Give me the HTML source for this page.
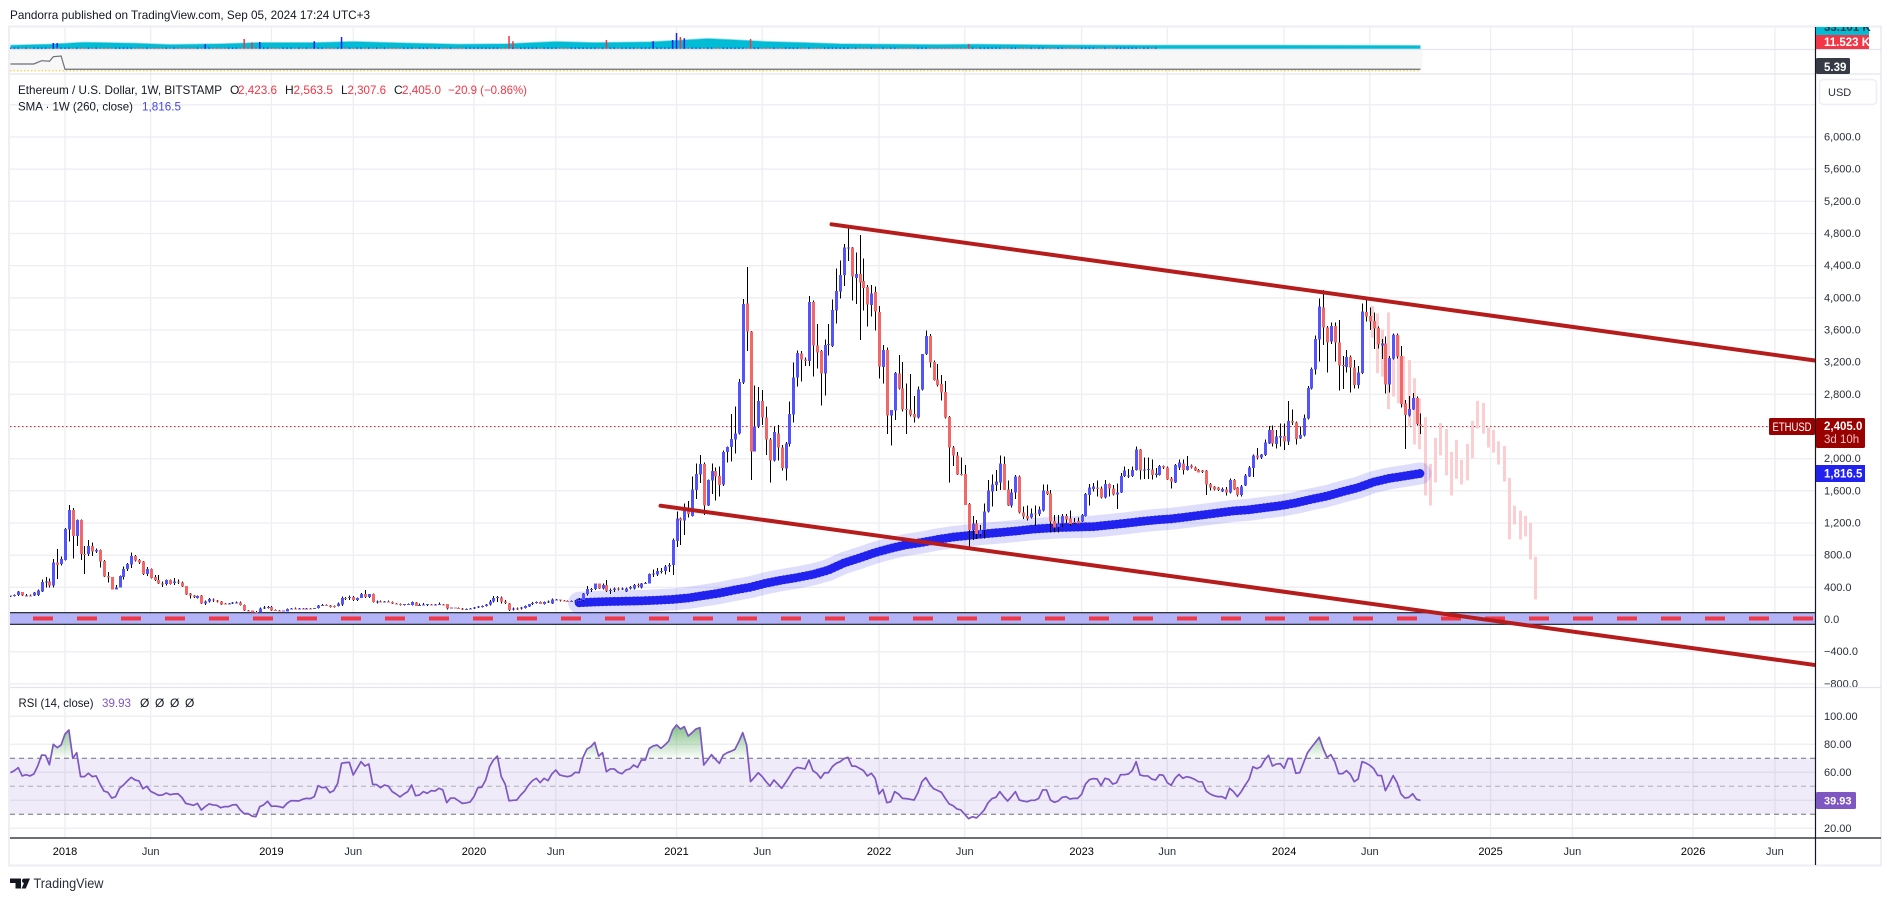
<!DOCTYPE html>
<html lang="en">
<head>
<meta charset="utf-8">
<title>Ethereum / U.S. Dollar chart</title>
<style>
html,body{margin:0;padding:0;background:#fff;width:1891px;height:901px;overflow:hidden}
svg{display:block;font-family:"Liberation Sans",sans-serif}
text{font-size:12px;fill:#131722}
</style>
</head>
<body>
<svg id="chart" xmlns="http://www.w3.org/2000/svg" width="1891" height="901" viewBox="0 0 1891 901">
  <defs>
    <clipPath id="main-clip"><rect x="10" y="74" width="1805" height="613"/></clipPath>
    <clipPath id="volume-clip"><rect x="10" y="27" width="1805" height="22"/></clipPath>
    <clipPath id="label-clip"><rect x="1815" y="27" width="66" height="22"/></clipPath>
    <clipPath id="rsi-over-clip"><rect x="10" y="688" width="1805" height="70"/></clipPath>
    <linearGradient id="rsi-over-grad" gradientUnits="userSpaceOnUse" x1="0" y1="720" x2="0" y2="758">
      <stop offset="0" stop-color="#43a047" stop-opacity="0.75"/>
      <stop offset="1" stop-color="#43a047" stop-opacity="0.03"/>
    </linearGradient>
  </defs>
  <rect x="0" y="0" width="1891" height="901" fill="#ffffff"/>
  <text x="10" y="19" textLength="360" lengthAdjust="spacingAndGlyphs" fill="#2a2e39">Pandorra published on TradingView.com, Sep 05, 2024 17:24 UTC+3</text>

  <g id="grid-layer"></g>
  <g id="volume-layer" clip-path="url(#volume-clip)"></g>
  <g id="rates-layer"></g>
  <g id="main-layer" clip-path="url(#main-clip)"></g>
  <g id="rsi-layer"></g>

  <rect x="1816" y="27" width="65" height="838" fill="#ffffff"/>
  <g id="axis-layer"></g>

  <g fill="none" stroke="#eeeef4" stroke-width="2">
    <rect x="9" y="26.5" width="1872" height="839"/>
  </g>
  <line x1="10" x2="1881" y1="74" y2="74" stroke="#e4e4ee" stroke-width="1.2"/>
  <line x1="10" x2="1881" y1="687.5" y2="687.5" stroke="#e4e4ee" stroke-width="1.2"/>
  <line x1="10" x2="1881" y1="49.5" y2="49.5" stroke="#e4e4ee" stroke-width="1.2"/>
  <line x1="10" x2="1881" y1="838" y2="838" stroke="#131722" stroke-width="1.2"/>
  <line x1="1815.5" x2="1815.5" y1="27" y2="865" stroke="#131722" stroke-width="1.2"/>

  <g clip-path="url(#label-clip)">
    <rect x="1816" y="22" width="53" height="13" fill="#00bcd4"/>
    <text x="1824" y="31" font-weight="bold" style="font-size:11.5px;fill:#1c3b47">33.101 K</text>
    <rect x="1816" y="35" width="53" height="14" fill="#f23645"/>
    <text x="1824" y="46" font-weight="bold" style="font-size:11.5px;fill:#ffffff">11.523 K</text>
  </g>
  <rect x="1816" y="58" width="34" height="16" rx="1.5" fill="#363a45"/>
  <text x="1824" y="71" font-weight="bold" style="font-size:11.5px;fill:#ffffff">5.39</text>

  <rect x="1819.5" y="79.5" width="57" height="25" rx="4" fill="#ffffff" stroke="#eeeef4" stroke-width="1.5"/>
  <text x="1828" y="96" style="font-size:11px;fill:#2a2e39">USD</text>

  <line x1="1769" x2="1815" y1="426.5" y2="426.5" stroke="#990000" stroke-width="1"/>
  <rect x="1769" y="418" width="46" height="17" rx="1.5" fill="#990000"/>
  <text x="1772.5" y="431" textLength="39" lengthAdjust="spacingAndGlyphs" style="font-size:11.5px;fill:#ffffff">ETHUSD</text>
  <rect x="1816" y="418" width="49" height="30" rx="1.5" fill="#990000"/>
  <text x="1824" y="430" font-weight="bold" style="font-size:11.5px;fill:#ffffff">2,405.0</text>
  <text x="1824" y="443" style="font-size:11.5px;fill:#f0c4c4">3d 10h</text>
  <rect x="1816" y="465" width="49" height="17" fill="#2222ee"/>
  <text x="1824" y="477.5" font-weight="bold" style="font-size:11.5px;fill:#ffffff">1,816.5</text>
  <rect x="1816" y="792" width="40" height="17" rx="1.5" fill="#7e57c2"/>
  <text x="1824" y="804.5" font-weight="bold" style="font-size:11px;fill:#ffffff">39.93</text>

  <g>
    <text x="18" y="94" textLength="204" lengthAdjust="spacingAndGlyphs">Ethereum / U.S. Dollar, 1W, BITSTAMP</text>
    <text x="230" y="94">O</text>
    <text x="238" y="94" textLength="39" lengthAdjust="spacingAndGlyphs" style="fill:#f23645">2,423.6</text>
    <text x="285" y="94">H</text>
    <text x="293.5" y="94" textLength="39.5" lengthAdjust="spacingAndGlyphs" style="fill:#f23645">2,563.5</text>
    <text x="341" y="94">L</text>
    <text x="347.5" y="94" textLength="38.5" lengthAdjust="spacingAndGlyphs" style="fill:#f23645">2,307.6</text>
    <text x="394" y="94">C</text>
    <text x="402" y="94" textLength="39" lengthAdjust="spacingAndGlyphs" style="fill:#f23645">2,405.0</text>
    <text x="448" y="94" textLength="79" lengthAdjust="spacingAndGlyphs" style="fill:#f23645">−20.9 (−0.86%)</text>
    <text x="18" y="110.5" textLength="115" lengthAdjust="spacingAndGlyphs">SMA · 1W (260, close)</text>
    <text x="142" y="110.5" textLength="39" lengthAdjust="spacingAndGlyphs" style="fill:#4444f0">1,816.5</text>
  </g>
  <g>
    <text x="18.5" y="707" textLength="75" lengthAdjust="spacingAndGlyphs">RSI (14, close)</text>
    <text x="102" y="707" textLength="29" lengthAdjust="spacingAndGlyphs" style="fill:#7e57c2">39.93</text>
    <text x="140" y="707">Ø</text>
    <text x="155" y="707">Ø</text>
    <text x="170" y="707">Ø</text>
    <text x="185" y="707">Ø</text>
  </g>

  <g>
    <path d="M10 878.5H21V888.5H15.5V883H10Z" fill="#131722"/>
    <circle cx="24.3" cy="880.8" r="2.3" fill="#131722"/>
    <path d="M26 878.5H30L25.8 888.5H21.6Z" fill="#131722"/>
    <text x="33.5" y="888" textLength="70" lengthAdjust="spacingAndGlyphs" style="font-size:14px;fill:#2a2e39">TradingView</text>
  </g>
</svg>

<script>
// ---------- candle data (week -14 = 25 Sep 2017, week 0 = 1 Jan 2018) ----------
const firstWeek = -14;
const opens = [
291,296,305,340,296,300,298,304,346,466,
470,420,706,690,740,1120,1360,1038,1237,814,
815,913,843,864,727,540,527,370,400,527,
630,682,789,740,720,565,628,527,490,450,
440,490,455,470,460,416,325,296,270,300,
200,225,250,235,225,200,198,201,210,212,
180,115,112,92,90,135,150,155,118,115,
108,100,130,138,134,137,135,137,135,140,
175,180,172,165,165,185,270,265,280,240,
270,317,280,317,225,226,218,225,215,200,
190,180,190,180,212,175,180,180,188,185,
188,188,190,145,150,145,138,130,132,138,
150,160,165,185,225,270,275,225,200,130,
135,135,140,160,190,205,220,190,215,200,
245,248,235,232,228,230,235,240,316,378,
380,445,385,432,355,365,385,375,350,385,
385,430,400,450,450,566,561,590,600,660,
678,976,1258,1230,1395,1287,1610,1800,1934,1415,
1726,1846,1784,1677,2083,2145,2240,2315,2945,3931,
3583,2092,2398,2717,2514,2240,1975,2315,2141,1876,
2182,2547,3007,3310,3235,3214,3948,3405,3339,3056,
3413,3401,3840,4076,4284,4611,4628,4246,4296,4209,
4134,3911,4072,3824,3140,3351,2539,2597,3061,2874,
2620,2613,2555,2510,2862,3301,3525,3201,2986,2928,
2829,2518,2141,2041,1809,1809,1436,1113,1196,1063,
1113,1341,1590,1672,1705,1934,1618,1415,1577,1776,
1333,1287,1270,1320,1312,1353,1598,1569,1225,1150,
1196,1287,1258,1215,1225,1216,1287,1548,1623,1643,
1631,1515,1685,1631,1555,1581,1784,1785,1784,1859,
2116,1860,1865,1867,1797,1797,1909,1892,1755,1705,
1892,1942,1859,1913,1892,1859,1851,1851,1685,1652,
1639,1590,1619,1577,1735,1639,1548,1664,1780,1884,
2037,2017,2045,2191,2356,2182,2265,2282,2211,2468,
2452,2253,2286,2497,2870,3107,3480,3882,3633,3455,
3650,3447,3165,3140,3264,3136,2916,3065,3824,3774,
3712,3625,3405,3434,2920,3244,3538,3277,2688,2539,
2610,2754,2423.6];
const highs = [
300,312,355,345,315,310,340,375,500,528,
510,750,876,781,1135,1423,1385,1245,1245,915,
988,960,880,870,740,590,530,430,545,660,
700,835,800,750,725,650,635,553,552,470,
500,500,516,495,470,418,330,305,300,305,
235,265,260,240,232,205,205,215,225,225,
185,118,115,105,150,165,170,165,125,118,
112,135,145,150,140,140,140,140,145,180,
190,188,180,175,210,285,280,300,290,275,
330,365,320,325,235,235,230,235,225,205,
200,195,198,225,220,200,205,195,195,190,
210,195,195,150,152,148,142,135,140,155,
170,175,190,240,290,290,285,240,205,150,
150,155,175,195,215,225,225,225,235,260,
255,250,240,238,235,240,265,330,415,390,
450,450,445,490,385,395,400,395,395,415,
440,445,455,465,570,624,640,640,680,700,
1010,1340,1270,1440,1473,1776,1940,2045,1950,1740,
1940,1890,1900,2100,2150,2555,2646,2990,3985,4383,
3590,2912,2891,2854,2646,2260,2398,2417,2170,2210,
2709,3194,3343,3340,3260,4023,3969,3674,3351,3484,
3674,3981,4367,4462,4669,4876,4635,4561,4781,4491,
4159,4159,4139,3898,3413,3384,2605,3075,3289,3202,
2937,3053,2779,2895,3301,3591,3550,3218,3177,3040,
2966,2530,2157,2083,2016,1920,1450,1287,1237,1175,
1440,1735,1805,1860,2037,2025,1730,1620,1797,1790,
1403,1420,1380,1415,1403,1680,1680,1610,1300,1300,
1312,1312,1353,1260,1270,1310,1570,1685,1695,1728,
1652,1735,1693,1672,1693,1820,1900,1870,1900,2149,
2120,2017,2017,1990,1885,1921,1915,1900,1770,1934,
1992,1992,2033,1925,1900,1870,1860,1860,1700,1660,
1650,1640,1645,1755,1745,1650,1670,1810,1910,2050,
2130,2060,2240,2406,2410,2356,2439,2439,2717,2613,
2460,2398,2551,2904,3136,3529,3994,4097,3650,3691,
3691,3724,3277,3351,3285,3227,3152,3931,3973,3882,
3815,3641,3488,3517,3277,3558,3558,3401,2729,2779,
2817,2771,2563.5];
const lows = [
280,285,295,290,285,285,292,295,340,400,
400,395,503,670,735,967,760,914,740,565,
790,789,830,645,530,458,370,370,395,500,
605,640,720,690,555,540,510,480,440,405,
420,435,430,440,405,305,260,270,260,190,
180,210,215,210,180,190,195,195,205,175,
105,100,90,85,85,130,135,105,110,105,
105,98,130,130,130,133,132,133,130,135,
170,170,150,150,160,170,240,240,230,230,
265,270,270,210,200,215,210,210,190,190,
175,175,185,175,165,170,175,170,180,180,
180,180,125,138,140,138,118,125,128,130,
145,150,160,175,210,220,200,195,105,115,
120,125,135,155,180,200,190,185,205,195,
240,225,225,222,215,215,225,230,300,340,
365,380,375,345,320,345,360,365,340,370,
375,400,385,440,445,530,540,575,560,590,
555,900,926,1051,1270,1280,1500,1700,1299,1410,
1560,1480,1527,1660,1950,1963,2066,2300,2930,3339,
1735,2090,2380,2420,2045,1701,1965,1975,1850,1726,
2150,2450,2895,2957,3150,3152,3020,3119,2659,2783,
3280,3390,3683,3994,4147,4458,3965,3923,3475,3840,
3641,3766,3591,2995,2937,2307,2161,2481,2860,2588,
2307,2522,2448,2500,2845,3290,3135,2970,2895,2721,
2497,1701,1909,1797,1790,1424,893,990,1000,1030,
1010,1330,1403,1600,1610,1610,1410,1390,1500,1320,
1250,1230,1255,1160,1290,1340,1550,1080,1085,1080,
1150,1200,1160,1190,1190,1210,1280,1420,1590,1527,
1505,1505,1527,1540,1374,1570,1770,1760,1770,1850,
1743,1747,1747,1740,1767,1790,1870,1735,1631,1700,
1860,1805,1850,1880,1845,1825,1820,1548,1602,1605,
1595,1585,1540,1565,1610,1527,1530,1660,1770,1775,
1990,1995,2030,2182,2149,2128,2149,2108,2170,2418,
2178,2244,2278,2489,2862,3044,3206,3413,3069,3426,
3206,2846,2866,3073,2821,2875,2875,3053,3704,3600,
3364,3372,3239,2812,2825,3230,3243,2638,2120,2522,
2605,2410,2307.6];
const closes = [
296,305,346,296,300,298,335,358,466,475,
420,710,677,750,1125,1360,1038,1237,814,800,
913,843,865,719,532,520,370,400,540,630,
690,789,731,706,565,628,516,490,450,440,
490,440,470,460,408,312,296,280,295,200,
225,255,235,225,188,196,201,210,212,180,
110,105,90,88,135,150,158,110,115,108,
110,130,138,134,137,135,137,135,140,175,
180,172,155,160,200,270,265,280,240,270,
317,280,315,217,226,218,225,220,200,195,
180,190,192,220,170,180,185,190,185,188,
190,185,135,150,145,142,130,132,138,150,
160,165,185,225,270,280,225,205,120,135,
132,150,170,190,205,220,195,215,225,250,
248,235,232,228,230,235,240,325,378,380,
445,385,432,355,365,385,375,385,385,405,
430,420,450,455,566,570,603,600,660,680,
988,1258,1230,1395,1312,1619,1810,1934,1415,1735,
1846,1776,1672,2083,2145,2245,2315,2953,3923,3579,
2087,2398,2717,2510,2240,1975,2331,2141,1884,2190,
2555,3011,3314,3235,3214,3948,3405,3322,3061,3413,
3425,3848,4085,4284,4624,4624,4263,4296,4188,4122,
3915,4056,3828,3144,3351,2539,2605,3065,2870,2613,
2613,2543,2510,2862,3301,3525,3193,2978,2916,2820,
2514,2141,2037,1805,1805,1424,1113,1196,1063,1113,
1341,1602,1681,1714,1942,1610,1415,1580,1776,1328,
1279,1254,1320,1315,1370,1602,1560,1216,1146,1196,
1287,1245,1190,1200,1196,1299,1560,1639,1652,1623,
1519,1685,1631,1556,1580,1784,1850,1790,1859,2116,
1851,1865,1870,1797,1817,1909,1892,1743,1714,1921,
1950,1859,1909,1888,1851,1830,1835,1681,1643,1619,
1610,1625,1577,1735,1619,1548,1652,1788,1892,2037,
2017,2054,2199,2356,2191,2273,2282,2211,2468,2448,
2244,2294,2506,2879,3115,3488,3890,3633,3442,3650,
3442,3156,3160,3264,3136,2916,3073,3828,3766,3704,
3617,3418,3434,2920,3252,3538,3273,2680,2543,2618,
2754,2431,2405];

// ---------- SMA (260) ----------
const smaWeeks = [132,136,140,144,148,152,156,160,164,168,172,176,180,184,188,192,196,200,204,208,212,216,220,224,228,232,236,240,244,248,252,256,260,264,268,272,276,280,284,288,292,296,300,304,308,312,316,320,324,328,332,336,340,344,348];
const smaValues = [209,218,224,228,232,240,250,268,298,328,368,402,452,490,522,560,615,703,765,832,885,930,958,995,1025,1045,1065,1082,1100,1122,1135,1145,1150,1155,1175,1195,1218,1238,1252,1275,1300,1325,1350,1365,1390,1415,1450,1495,1535,1590,1640,1710,1755,1785,1816.5];

// ---------- bars-pattern projection (pale pink) ----------
const ghostHighs = [3898,3807,3608,3819,3550,3538,3277,3227,3000,2751,2515,1935,2258,2441,2370,2085,2234,1985,2184,2470,2718,2693,2383,2358,2217,2159,1762,1414,1352,1290,1203,780];
const ghostLows = [3505,3062,3020,2614,2772,2689,2648,2407,2176,2118,1542,1418,1704,2039,1791,1542,1749,1679,1729,2007,2374,2312,2138,2076,1927,1716,996,1182,996,1033,747,250];

// ---------- channel trend lines ----------
const upperTrendWeeks = [196.8,449.3];
const upperTrendPrices = [4914,3221];
const lowerTrendWeeks = [152.9,449.3];
const lowerTrendPrices = [1415,-566];

// ---------- zero band ----------
const bandTop = 85;
const bandBottom = -60;

// ---------- RSI (14) ----------
const rsiValues = [
59.7,61.2,63.3,57.4,58.3,57.4,58.8,64.5,72.3,72.1,
65.4,80,77.6,79.5,87.3,90.2,70,74,56.9,56.9,
59.3,56.9,57.4,51.6,46.6,45.7,41.6,42.6,48.6,50.9,
53.8,56.4,54.5,53.8,48.3,50,46.4,45,43.6,43.8,
45.2,44,44.5,44.7,42.1,37.8,37.1,36.4,37.8,33.1,
35.5,37.4,36.7,36.4,34.7,35.5,35.5,36.7,36.9,33.1,
30.5,30.5,28.8,28.3,35.5,36.7,39.3,35.7,35.9,35.5,
34.7,37.8,39.7,39.7,39.5,40.7,41.4,41.2,42.6,50.5,
49,49.3,45.5,46.9,52.1,66.4,66.9,67.1,58.1,62.8,
67.6,64.5,65.9,51.4,51.2,49,50.9,50.2,46.2,44.5,
42.4,44.5,46.2,50.9,43.3,43.8,46.2,45,46.9,46.6,
48.6,47.4,38.3,41.6,41.6,39.7,37.8,38.1,38.8,42.6,
49,49.3,54.5,64,68.8,71.6,56.9,51.6,39.7,40,
40.2,43.8,46.6,50.9,54,55.7,52.6,55.7,54,58.8,
61.6,58.1,57.4,56.9,57.6,60,59.7,70.7,76.6,78.3,
81.4,71.6,74,60.4,62.4,62.4,60,59,61.6,62.4,
65.2,63.5,68.8,68.8,77.1,78.8,79.5,77.1,79.5,82.3,
90.2,93.8,90.9,92.6,85.9,88.3,90.9,91.9,65.2,68.8,
72.6,69.3,66.4,72.3,74,75,76.4,81.9,88.3,79.5,
53.3,56.4,59.7,56.9,53.3,50.2,54.5,51.6,48.6,52.6,
56.9,61.6,63.5,63,62.4,68.8,61.2,59.3,55.7,59.7,
59.7,64,66.4,67.6,69.7,70.7,64.5,64.3,62.8,61.2,
57.4,59.3,55.7,44.5,47.8,38.3,39,46.2,44.5,41.4,
41.2,40.7,40.2,45.5,53.3,56.2,51.6,48.3,47.1,45.7,
41.4,37.4,36.2,33.8,33.1,30,26.9,28.3,27.4,30,
33.1,38.3,41.2,42.1,46.2,42.6,39.5,42.6,46.2,40.2,
39.5,39,40,40,41.4,47.4,47.4,40.2,38.6,39.5,
42.1,42.6,40.9,41.4,41.4,44.3,51.6,54.7,55.5,55.2,
50.5,55.7,55,51.6,52.6,58.3,58.3,58.8,61.2,67.6,
58.1,57.4,57.4,55.2,54.5,58.3,57.8,52.6,50.7,55.7,
58.5,55.7,56.9,56.2,55,53.3,53.1,46.6,44.5,43.3,
42.6,42.6,41.2,48.6,46.2,42.6,46.2,50.9,55,64,
62.6,64,68.8,72.1,64.5,65.9,66.2,62.8,70,69.5,
59.3,59.7,66.9,74,77.8,81.4,85,77.1,70.7,72.6,
67.6,59,59,61.2,58.5,53.3,55.2,67.6,66.6,65,
62.6,57.8,57.6,46.9,52.1,57.6,52.6,44.5,41.6,42.1,
44.7,40.7,39.93];

// ---------- volume pane ----------
const volumeMaWeeks = [-14,-4,5,18,27,40,50,64,74,86,101,113,126,136,150,158,165,172,180,190,199,212,224,234,254,278,312,348];
const volumeMaValues = [6.7,8.3,11.7,10,7.8,8.9,11.1,11.1,12.8,10.6,8.3,8.9,12.8,11.1,12.2,15,17.8,15.6,12.8,11.1,8.9,8.3,7.8,8.3,7.2,6.7,6.7,6.1];
const volumeSpikeWeeks = [-3,-2,36,46,48,50,64,71,114,115,139,151,156,157,158,159,176,232];
const volumeSpikeValues = [10,10,8,16.7,11,11.7,13,20,21.7,13,15,13,15,26.7,20,18,16.7,8.3];
const volumeSpikeDown = [0,0,0,1,1,0,0,0,1,1,1,0,0,0,1,0,1,1];

// ---------- second indicator pane ----------
const indicatorWeeks = [-14,-8,-6,-4,-3,-1,0,348];
const indicatorValues = [7.9,7.9,12,11.3,17,17.9,1.3,1.3];

// ---------- axes ----------
const priceTicks = [6400,6000,5600,5200,4800,4400,4000,3600,3200,2800,2400,2000,1600,1200,800,400,0,-400,-800];
const hiddenPriceLabels = [6400,2400];
const rsiTicks = [100,80,60,40,20];
const rsiLevels = [70,50,30];
const timeTickWeeks = [0,22,53,74,105,126,157,179,209,231,261,283,313,335,366,387,418,439];
const timeTickLabels = ["2018","Jun","2019","Jun","2020","Jun","2021","Jun","2022","Jun","2023","Jun","2024","Jun","2025","Jun","2026","Jun"];
const lastPrice = 2405;

// ---------- scales ----------
const xOf = w => 65 + 3.895 * w;
const yOf = p => 619.5 - 0.08042 * p;
const yRsi = r => 814.3 - (r - 30) * 1.4;
const yVol = v => 49 - 0.6 * v;
const yInd = v => 70.3 - 0.8 * v;

const NS = 'http://www.w3.org/2000/svg';
function add(parent, tag, attrs, text) {
  const n = document.createElementNS(NS, tag);
  for (const k in attrs) n.setAttribute(k, attrs[k]);
  if (text !== undefined) n.textContent = text;
  parent.appendChild(n);
  return n;
}
function fmtPrice(p) {
  const s = Math.abs(p).toLocaleString('en-US', {minimumFractionDigits: 1, maximumFractionDigits: 1});
  return (p < 0 ? '\u2212' : '') + s;
}
const gridLayer = document.getElementById('grid-layer');
const volLayer = document.getElementById('volume-layer');
const ratesLayer = document.getElementById('rates-layer');
const mainLayer = document.getElementById('main-layer');
const rsiLayer = document.getElementById('rsi-layer');
const axisLayer = document.getElementById('axis-layer');
const GRID = '#eeeef3';

// grid
timeTickWeeks.forEach(w => {
  const g = add(gridLayer, 'line', {x1: xOf(w), x2: xOf(w), y1: 27, y2: 838, stroke: GRID, 'stroke-width': 1.3});
  
  
});
priceTicks.forEach(p => {
  const g = add(gridLayer, 'line', {x1: 10, x2: 1815, y1: yOf(p), y2: yOf(p), stroke: GRID, 'stroke-width': 1.3});
  
  
});
rsiTicks.forEach(r => {
  const g = add(gridLayer, 'line', {x1: 10, x2: 1815, y1: yRsi(r), y2: yRsi(r), stroke: GRID, 'stroke-width': 1.3});
  
  
});

// volume pane
const volPts = volumeMaWeeks.map((w, i) => xOf(w) + ',' + yVol(volumeMaValues[i]));
const volArea = add(volLayer, 'polygon', {points: xOf(volumeMaWeeks[0]) + ',49 ' + volPts.join(' ') + ' ' + xOf(348) + ',49', fill: '#00bcd4', stroke: '#8fdde8', 'stroke-width': 0.8});


volumeSpikeWeeks.forEach((w, i) => {
  const b = add(volLayer, 'rect', {x: xOf(w) - 0.75, y: yVol(volumeSpikeValues[i]), width: 1.5, height: 49 - yVol(volumeSpikeValues[i]), fill: volumeSpikeDown[i] ? '#f23645' : '#2222ee'});
  
  
});
closes.forEach((c, i) => {
  const w = firstWeek + i;
  if (w > 280) return;
  const b = add(volLayer, 'rect', {x: xOf(w) - 0.7, y: 47.6, width: 1.5, height: 1.2, fill: c >= opens[i] ? '#2222ee' : '#f23645'});
  
  
});

// indicator pane
const indBg = add(ratesLayer, 'rect', {x: 10, y: 50, width: xOf(348) + 2 - 10, height: 20, fill: '#f7f7f8'});


const indZero = add(ratesLayer, 'line', {x1: 10, x2: xOf(348), y1: 70.7, y2: 70.7, stroke: '#f0c419', 'stroke-width': 1, 'stroke-dasharray': '1.5 2'});


const indLine = add(ratesLayer, 'polyline', {points: indicatorWeeks.map((w, i) => xOf(w) + ',' + yInd(indicatorValues[i])).join(' '), fill: 'none', stroke: '#6e7078', 'stroke-width': 1.2});



// zero band
const band = add(mainLayer, 'rect', {x: 10, y: yOf(bandTop), width: 1805, height: yOf(bandBottom) - yOf(bandTop), fill: '#b2b4f7'});


[bandTop, bandBottom].forEach(p => {
  const l = add(mainLayer, 'line', {x1: 10, x2: 1815, y1: yOf(p), y2: yOf(p), stroke: '#131722', 'stroke-width': 1.2});
  
  
});
const bandDash = add(mainLayer, 'line', {x1: 33, x2: 1815, y1: yOf(12), y2: yOf(12), stroke: '#f23645', 'stroke-width': 4, 'stroke-dasharray': '20 24'});



// current price line
const priceLine = add(mainLayer, 'line', {x1: 10, x2: 1769, y1: yOf(lastPrice) + 0.5, y2: yOf(lastPrice) + 0.5, stroke: '#b22222', 'stroke-width': 1, 'stroke-dasharray': '1.5 2.5'});



// ghost pattern
ghostHighs.forEach((h, i) => {
  const w = 335.5 + 1.355 * i;
  const g = add(mainLayer, 'rect', {x: Math.round(xOf(w)) - 1, y: yOf(h), width: 3, height: yOf(ghostLows[i]) - yOf(h), fill: '#fbcfd2'});
  
  
});

// SMA
const smaPts = smaWeeks.map((w, i) => xOf(w) + ',' + yOf(smaValues[i])).join(' ');
const smaHalo = add(mainLayer, 'polyline', {points: smaPts, fill: 'none', stroke: '#2222ee', 'stroke-opacity': 0.15, 'stroke-width': 22, 'stroke-linecap': 'round', 'stroke-linejoin': 'round'});


const smaCore = add(mainLayer, 'polyline', {points: smaPts, fill: 'none', stroke: '#2222ee', 'stroke-width': 7.5, 'stroke-linejoin': 'round', 'stroke-linecap': 'round'});


const smaDots = add(mainLayer, 'polyline', {points: smaPts, fill: 'none', stroke: '#2222ee', 'stroke-width': 9, 'stroke-dasharray': '0 3.9', 'stroke-linecap': 'round', 'stroke-linejoin': 'round'});



// candles
closes.forEach((c, i) => {
  const w = firstWeek + i;
  const x = Math.round(xOf(w));
  const o = opens[i];
  const up = c >= o;
  const wick = add(mainLayer, 'rect', {x: x, y: yOf(highs[i]), width: 1, height: Math.max(1, yOf(lows[i]) - yOf(highs[i])), fill: '#000000', 'shape-rendering': 'crispEdges'});
  
  
  const top = yOf(Math.max(o, c));
  const h = Math.max(1, yOf(Math.min(o, c)) - top);
  const body = add(mainLayer, 'rect', {x: x - 1, y: top, width: 3, height: h, fill: up ? '#5454ff' : '#f26868', 'shape-rendering': 'crispEdges'});
  
  
});

// trend lines
const upperTrend = add(mainLayer, 'line', {x1: xOf(upperTrendWeeks[0]), y1: yOf(upperTrendPrices[0]), x2: xOf(upperTrendWeeks[1]), y2: yOf(upperTrendPrices[1]), stroke: '#b71c1c', 'stroke-width': 4, 'stroke-linecap': 'round'});


const lowerTrend = add(mainLayer, 'line', {x1: xOf(lowerTrendWeeks[0]), y1: yOf(lowerTrendPrices[0]), x2: xOf(lowerTrendWeeks[1]), y2: yOf(lowerTrendPrices[1]), stroke: '#b71c1c', 'stroke-width': 4, 'stroke-linecap': 'round'});



// RSI pane
const rsiBand = add(rsiLayer, 'rect', {x: 10, y: yRsi(70), width: 1805, height: yRsi(30) - yRsi(70), fill: '#7e57c2', 'fill-opacity': 0.12});


rsiLevels.forEach((r, i) => {
  const l = add(rsiLayer, 'line', {x1: 10, x2: 1815, y1: yRsi(r), y2: yRsi(r), stroke: r === 50 ? '#aeb0b8' : '#6f7280', 'stroke-width': 1, 'stroke-dasharray': '5 4'});
  
  
});
const rsiPts = rsiValues.map((r, i) => xOf(firstWeek + i) + ',' + yRsi(r));
const rsiOver = add(rsiLayer, 'polygon', {points: xOf(firstWeek) + ',' + yRsi(70) + ' ' + rsiPts.join(' ') + ' ' + xOf(firstWeek + rsiValues.length - 1) + ',' + yRsi(70), fill: 'url(#rsi-over-grad)', 'clip-path': 'url(#rsi-over-clip)'});


const rsiLine = add(rsiLayer, 'polyline', {points: rsiPts.join(' '), fill: 'none', stroke: '#7e57c2', 'stroke-width': 1.7, 'stroke-linejoin': 'round'});



// axis labels
priceTicks.forEach(p => {
  if (hiddenPriceLabels.includes(p)) return;
  const t = add(axisLayer, 'text', {x: 1824, y: yOf(p) + 3.5, style: 'font-size:11px;fill:#2a2e39'}, fmtPrice(p));
  
  
});
rsiTicks.forEach(r => {
  const t = add(axisLayer, 'text', {x: 1824, y: yRsi(r) + 3.5, style: 'font-size:11px;fill:#2a2e39'}, r.toFixed(2));
  
  
});
timeTickWeeks.forEach((w, i) => {
  const lab = timeTickLabels[i];
  const t = add(axisLayer, 'text', {x: xOf(w), y: 855, 'text-anchor': 'middle', style: 'font-size:11px;fill:' + (lab === 'Jun' ? '#2a2e39' : '#000000')}, lab);
  
  
});
</script>
</body>
</html>
